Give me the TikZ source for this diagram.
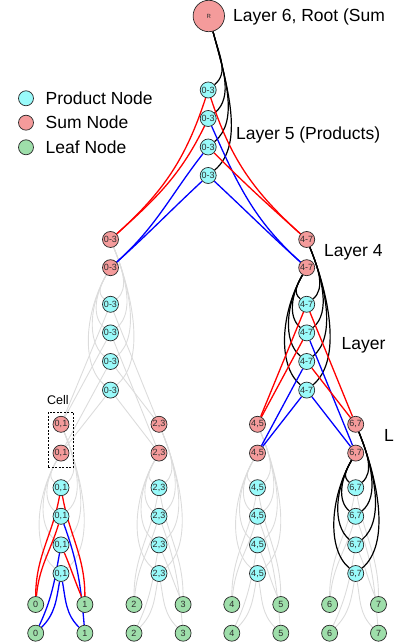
\documentclass[tikz,border=0pt]{standalone}
\usepackage{fontspec}
\setmainfont{Liberation Sans}
\usetikzlibrary{backgrounds}
\definecolor{prodfill}{RGB}{153,250,250}
\definecolor{sumfill}{RGB}{244,155,155}
\definecolor{leaffill}{RGB}{158,222,170}
\definecolor{greyedge}{RGB}{220,220,220}
\definecolor{nodeline}{RGB}{40,40,40}
\definecolor{nodetext}{RGB}{45,45,45}
\begin{document}
\begin{tikzpicture}[x=1pt,y=1pt,
  base/.style={circle, draw=nodeline, line width=0.7pt, minimum size=16pt, inner sep=0pt, text=nodetext, font=\fontsize{9}{10}\selectfont},
  prod/.style={base, fill=prodfill},
  sumn/.style={base, fill=sumfill},
  leafn/.style={base, fill=leaffill},
  ge/.style={draw=greyedge, line width=0.9pt},
  re/.style={draw=red, line width=1.3pt},
  be/.style={draw=blue, line width=1.3pt},
  ke/.style={draw=black, line width=1.2pt},
  lab/.style={anchor=base west, inner sep=0pt, font=\fontsize{17.5}{20}\selectfont},
]
\useasboundingbox (0,0) rectangle (401,642);

% ---------- nodes ----------
\node[sumn, minimum size=31.4pt, font=\fontsize{6}{7}\selectfont] (R) at (208.8,626) {R};
\foreach \y [count=\k] in {552,523.5,495,466.5} \node[prod] (P5-\k) at (208.2,\y) {0-3};

\foreach \x/\lb/\s in {110.5/0-3/1, 306.7/4-7/2} {
  \node[sumn] (S4-\s-t) at (\x,402.5) {\lb};
  \node[sumn] (S4-\s-b) at (\x,374.3) {\lb};
  \foreach \y [count=\k] in {337.7,309.1,280.5,251.9} \node[prod] (P3-\s-\k) at (\x,\y) {\lb};
}

\foreach \x/\lb/\s in {61/{0,1}/1, 159/{2,3}/2, 257.5/{4,5}/3, 355.7/{6,7}/4} {
  \node[sumn] (S2-\s-t) at (\x,217.7) {\lb};
  \node[sumn] (S2-\s-b) at (\x,188.9) {\lb};
  \foreach \y [count=\k] in {154.3,125.7,97.1,68.5} \node[prod] (P1-\s-\k) at (\x,\y) {\lb};
}

\foreach \x [count=\i from 0] in {35.7,84.9,134,183.1,231.8,280.8,329.6,378.5} {
  \node[leafn] (F-\i-t) at (\x,37.5) {\i};
  \node[leafn] (F-\i-b) at (\x,8.8) {\i};
}

% ---------- cell box ----------
\node[draw=black, dash pattern=on 2pt off 1.5pt, line width=0.8pt, minimum width=25pt, minimum height=55pt, inner sep=0pt] (cell) at (60.8,202.2) {};
\node[anchor=base west, inner sep=0pt, font=\fontsize{12.5}{14}\selectfont] (celllab) at (47,237) {Cell};

% ---------- legend ----------
\node[prod, minimum size=15pt] (lg1) at (26,543.7) {};
\node[sumn, minimum size=15pt] (lg2) at (26,519.3) {};
\node[leafn, minimum size=15pt] (lg3) at (26,494.7) {};
\node[lab] (lt1) at (45.5,537.6) {Product Node};
\node[lab] (lt2) at (45.5,513.2) {Sum Node};
\node[lab] (lt3) at (45.5,488.6) {Leaf Node};

% ---------- layer labels ----------
\node[lab] (l6) at (233,620.3) {Layer 6, Root (Sum};
\node[lab] (l5) at (236,502.7) {Layer 5 (Products)};
\node[lab] (l4) at (324,385.3) {Layer 4};
\node[lab] (l3) at (341.5,292.7) {Layer};
\node[lab] (l2) at (384,200.3) {L};

% ---------- edges ----------
\begin{scope}[on background layer]
% grey bows (sum -> products)
\foreach \s in {1,2,3} {
  \foreach \y [count=\k] in {154.3,125.7,97.1,68.5} {
    \pgfmathsetlengthmacro\dA{0.35*(217.7-\y)}
    \pgfmathsetlengthmacro\dB{0.25*(217.7-\y)}
    \draw[ge] (S2-\s-t) to[out=-68,in=40,out distance=\dA,in distance=\dB] (P1-\s-\k);
    \pgfmathsetlengthmacro\dA{0.35*(188.9-\y)}
    \pgfmathsetlengthmacro\dB{0.25*(188.9-\y)}
    \draw[ge] (S2-\s-b) to[out=-120,in=140,out distance=\dA,in distance=\dB] (P1-\s-\k);
  }
}
\foreach \y [count=\k] in {337.7,309.1,280.5,251.9} {
  \pgfmathsetlengthmacro\dA{0.35*(402.5-\y)}
  \pgfmathsetlengthmacro\dB{0.25*(402.5-\y)}
  \draw[ge] (S4-1-t) to[out=-68,in=40,out distance=\dA,in distance=\dB] (P3-1-\k);
  \pgfmathsetlengthmacro\dA{0.35*(374.3-\y)}
  \pgfmathsetlengthmacro\dB{0.25*(374.3-\y)}
  \draw[ge] (S4-1-b) to[out=-120,in=140,out distance=\dA,in distance=\dB] (P3-1-\k);
}
% grey products -> sums
\foreach \k/\l/\r in {1/t/t,2/t/b,3/b/t,4/b/b} {
  \draw[ge] (P3-1-\k) -- (S2-1-\l);
  \draw[ge] (P3-1-\k) -- (S2-2-\r);
}
% grey products -> leaves
\foreach \s in {2,3,4} {
  \pgfmathtruncatemacro\fl{2*\s-2}
  \pgfmathtruncatemacro\fr{2*\s-1}
  \foreach \k/\lv/\lo/\lin/\rv/\ro/\rin in {1/t/-100/90/t/-80/90, 2/t/-107/85/b/-70/95, 3/b/-100/65/t/-67/113, 4/b/-100/45/b/-80/135} {
    \draw[ge] (P1-\s-\k) to[out=\lo,in=\lin] (F-\fl-\lv);
    \draw[ge] (P1-\s-\k) to[out=\ro,in=\rin] (F-\fr-\rv);
  }
}

% black bows
\foreach \y [count=\k] in {552,523.5,495,466.5} {
  \pgfmathsetlengthmacro\dA{0.35*(626-\y)}
  \pgfmathsetlengthmacro\dB{0.25*(626-\y)}
  \draw[ke] (R) to[out=-75,in=40,out distance=\dA,in distance=\dB] (P5-\k);
}
\foreach \y [count=\k] in {337.7,309.1,280.5,251.9} {
  \pgfmathsetlengthmacro\dA{0.35*(402.5-\y)}
  \pgfmathsetlengthmacro\dB{0.25*(402.5-\y)}
  \draw[ke] (S4-2-t) to[out=-68,in=40,out distance=\dA,in distance=\dB] (P3-2-\k);
  \pgfmathsetlengthmacro\dA{0.35*(374.3-\y)}
  \pgfmathsetlengthmacro\dB{0.25*(374.3-\y)}
  \draw[ke] (S4-2-b) to[out=-120,in=140,out distance=\dA,in distance=\dB] (P3-2-\k);
}
\foreach \y [count=\k] in {154.3,125.7,97.1,68.5} {
  \pgfmathsetlengthmacro\dA{0.35*(217.7-\y)}
  \pgfmathsetlengthmacro\dB{0.25*(217.7-\y)}
  \draw[ke] (S2-4-t) to[out=-68,in=40,out distance=\dA,in distance=\dB] (P1-4-\k);
  \pgfmathsetlengthmacro\dA{0.35*(188.9-\y)}
  \pgfmathsetlengthmacro\dB{0.25*(188.9-\y)}
  \draw[ke] (S2-4-b) to[out=-120,in=140,out distance=\dA,in distance=\dB] (P1-4-\k);
}

% layer 5 -> layer 4
\draw[re] (P5-1) to[out=-108,in=42] (S4-1-t);
\draw[re] (P5-2) to[out=-116,in=42] (S4-1-t);
\draw[be] (P5-3) to[out=-128,in=42] (S4-1-b);
\draw[be] (P5-4) to[out=-137,in=42] (S4-1-b);
\draw[re] (P5-1) to[out=-72,in=138] (S4-2-t);
\draw[be] (P5-2) to[out=-66,in=138] (S4-2-b);
\draw[re] (P5-3) to[out=-45,in=138] (S4-2-t);
\draw[be] (P5-4) to[out=-43,in=138] (S4-2-b);

% layer 3 (4-7) -> layer 2
\foreach \k/\l/\r/\cl/\cr in {1/t/t/re/re, 2/t/b/re/be, 3/b/t/be/re, 4/b/b/be/be} {
  \draw[\cl] (P3-2-\k) -- (S2-3-\l);
  \draw[\cr] (P3-2-\k) -- (S2-4-\r);
}

% layer 1 (0,1) -> leaves
\foreach \k/\lv/\lo/\lin/\lc/\rv/\ro/\rin/\rc in {1/t/-100/90/re/t/-80/90/re, 2/t/-107/85/re/b/-70/95/be, 3/b/-100/65/be/t/-67/113/re, 4/b/-100/45/be/b/-80/135/be} {
  \draw[\lc] (P1-1-\k) to[out=\lo,in=\lin] (F-0-\lv);
  \draw[\rc] (P1-1-\k) to[out=\ro,in=\rin] (F-1-\rv);
}
\end{scope}
\end{tikzpicture}
\end{document}
